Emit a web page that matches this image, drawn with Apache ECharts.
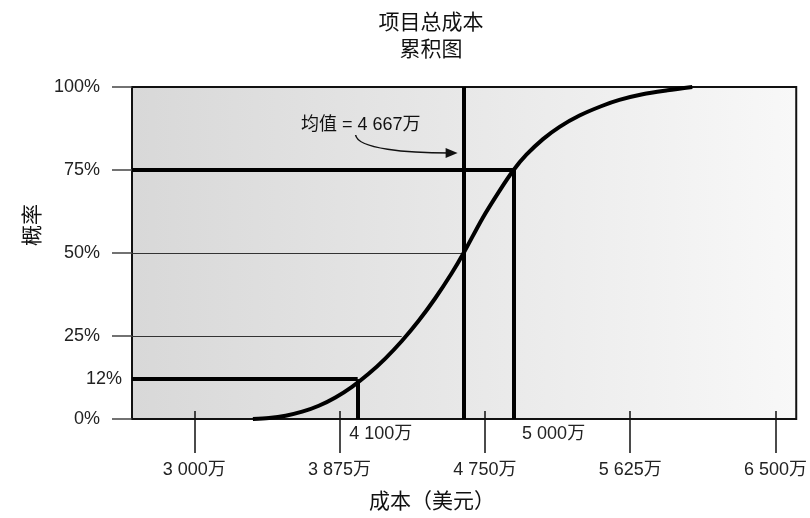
<!DOCTYPE html>
<html>
<head>
<meta charset="utf-8">
<script src="https://cdn.jsdelivr.net/npm/echarts@6/dist/echarts.min.js"></script>
<style>
  html, body { margin: 0; padding: 0; background: #fff; }
  #main { width: 810px; height: 518px; }
</style>
</head>
<body>
<div id="main"></div>
<script>
// 累积曲线（成本 万美元, 概率 %）
const curveCost = [3353, 3450, 3550, 3650, 3750, 3850, 3950, 4050, 4150, 4250, 4350, 4450, 4550, 4622,
                   4736, 4839, 4923, 5000, 5100, 5200, 5320, 5450, 5560, 5700, 5850, 5999];
const curveProb = [0, 0.3, 1.0, 2.2, 4.0, 6.5, 9.7, 13.6, 18.2, 23.5, 29.5, 36.3, 43.9, 50,
                   60.5, 68.8, 75, 79.6, 84.3, 88.0, 91.4, 94.2, 96.1, 97.8, 99.0, 100];
// x 轴刻度
const xTicks = [3000, 3875, 4750, 5625, 6500];
const yTicks = [0, 25, 50, 75, 100];
// 参考线：位置按图上刻度读出，标签为原图文字
const p12Cost = 3984, p12Label = '4 100万';
const meanCost = 4622, meanLabel = '均值 = 4 667万';
const p75Cost = 4923, p75Label = '5 000万';
const thin25End = 4249;
const xMin = 2625, xMax = 6625;

const FONT = '"Liberation Sans", Arial, "Noto Sans CJK SC", sans-serif';
const fmtCost = v => String(v).replace(/\B(?=(\d{3})+(?!\d))/g, ' ') + '万';

const chart = echarts.init(document.getElementById('main'));
const thick = { color: '#000', width: 4, type: 'solid' };
const thin = { color: '#333', width: 1, type: 'solid' };

chart.setOption({
  animation: false,
  backgroundColor: '#fff',
  textStyle: { fontFamily: FONT },
  grid: {
    left: 132, top: 87, right: 13, bottom: 99,
    show: true,
    borderColor: '#111',
    borderWidth: 2,
    backgroundColor: {
      type: 'linear', x: 0, y: 0, x2: 1, y2: 0,
      colorStops: [{ offset: 0, color: '#d8d8d8' }, { offset: 1, color: '#f8f8f8' }]
    }
  },
  xAxis: {
    type: 'value',
    min: xMin, max: xMax,
    offset: -8,
    axisLine: { show: false },
    splitLine: { show: false },
    axisTick: { show: true, customValues: xTicks, length: 42, lineStyle: { color: '#111', width: 1.5 } },
    axisLabel: {
      customValues: xTicks, margin: 50, formatter: fmtCost,
      fontSize: 18, color: '#222', fontFamily: FONT
    }
  },
  yAxis: {
    type: 'value',
    min: 0, max: 100,
    axisLine: { show: false },
    splitLine: { show: false },
    axisTick: { show: true, customValues: yTicks, length: 20, lineStyle: { color: '#444', width: 1.5 } },
    axisLabel: {
      customValues: yTicks, margin: 32, formatter: '{value}%',
      fontSize: 18, color: '#222', fontFamily: FONT
    }
  },
  series: [{
    type: 'line',
    data: curveCost.map((c, i) => [c, curveProb[i]]),
    smooth: 0.3,
    showSymbol: false,
    symbol: 'none',
    lineStyle: { color: '#000', width: 4 },
    z: 5,
    markLine: {
      silent: true,
      symbol: 'none',
      animation: false,
      label: { show: false },
      data: [
        [{ coord: [xMin, 50], lineStyle: thin }, { coord: [meanCost, 50] }],
        [{ coord: [xMin, 25], lineStyle: thin }, { coord: [thin25End, 25] }],
        [{ coord: [xMin, 75], lineStyle: thick }, { coord: [p75Cost, 75] }],
        [{
          coord: [xMin, 12], lineStyle: thick,
          label: { show: true, position: 'start', distance: 10, formatter: '12%', fontSize: 18, color: '#222', fontFamily: FONT }
        }, { coord: [p12Cost, 12] }],
        [{ coord: [meanCost, 0], lineStyle: thick }, { coord: [meanCost, 100] }],
        [{
          coord: [p12Cost, 0], lineStyle: thick,
          label: { show: true, position: 'start', distance: 6, offset: [23, 0], formatter: p12Label, fontSize: 18, color: '#222', fontFamily: FONT }
        }, { coord: [p12Cost, 12] }],
        [{
          coord: [p75Cost, 0], lineStyle: thick,
          label: { show: true, position: 'start', distance: 6, offset: [40, 0], formatter: p75Label, fontSize: 18, color: '#222', fontFamily: FONT }
        }, { coord: [p75Cost, 75] }]
      ]
    }
  }]
});

// 标题、轴名与均值注释
const meanPx = chart.convertToPixel({ xAxisIndex: 0 }, meanCost);
const ax = meanPx - 6, ay = 153;
chart.setOption({
  graphic: [
    { type: 'text', x: 431, y: 23, style: { text: '项目总成本', font: '21px ' + FONT, fill: '#111', align: 'center', verticalAlign: 'middle' } },
    { type: 'text', x: 431, y: 50, style: { text: '累积图', font: '21px ' + FONT, fill: '#111', align: 'center', verticalAlign: 'middle' } },
    { type: 'text', x: 432, y: 502, style: { text: '成本（美元）', font: '21px ' + FONT, fill: '#111', align: 'center', verticalAlign: 'middle' } },
    { type: 'text', x: 33, y: 225, rotation: Math.PI / 2, style: { text: '概率', font: '21px ' + FONT, fill: '#111', align: 'center', verticalAlign: 'middle' } },
    { type: 'text', x: 301, y: 125, style: { text: meanLabel, font: '18px ' + FONT, fill: '#111', align: 'left', verticalAlign: 'middle' }, z: 10 },
    {
      type: 'bezierCurve', z: 10,
      shape: { x1: ax - 102, y1: ay - 18, cpx1: ax - 100, cpy1: ay - 4, cpx2: ax - 50, cpy2: ay, x2: ax - 8, y2: ay },
      style: { stroke: '#111', lineWidth: 1.5, fill: null }
    },
    {
      type: 'polygon', z: 10,
      shape: { points: [[ax - 12, ay - 5], [ax, ay], [ax - 12, ay + 5]] },
      style: { fill: '#111' }
    }
  ]
});
</script>
</body>
</html>
